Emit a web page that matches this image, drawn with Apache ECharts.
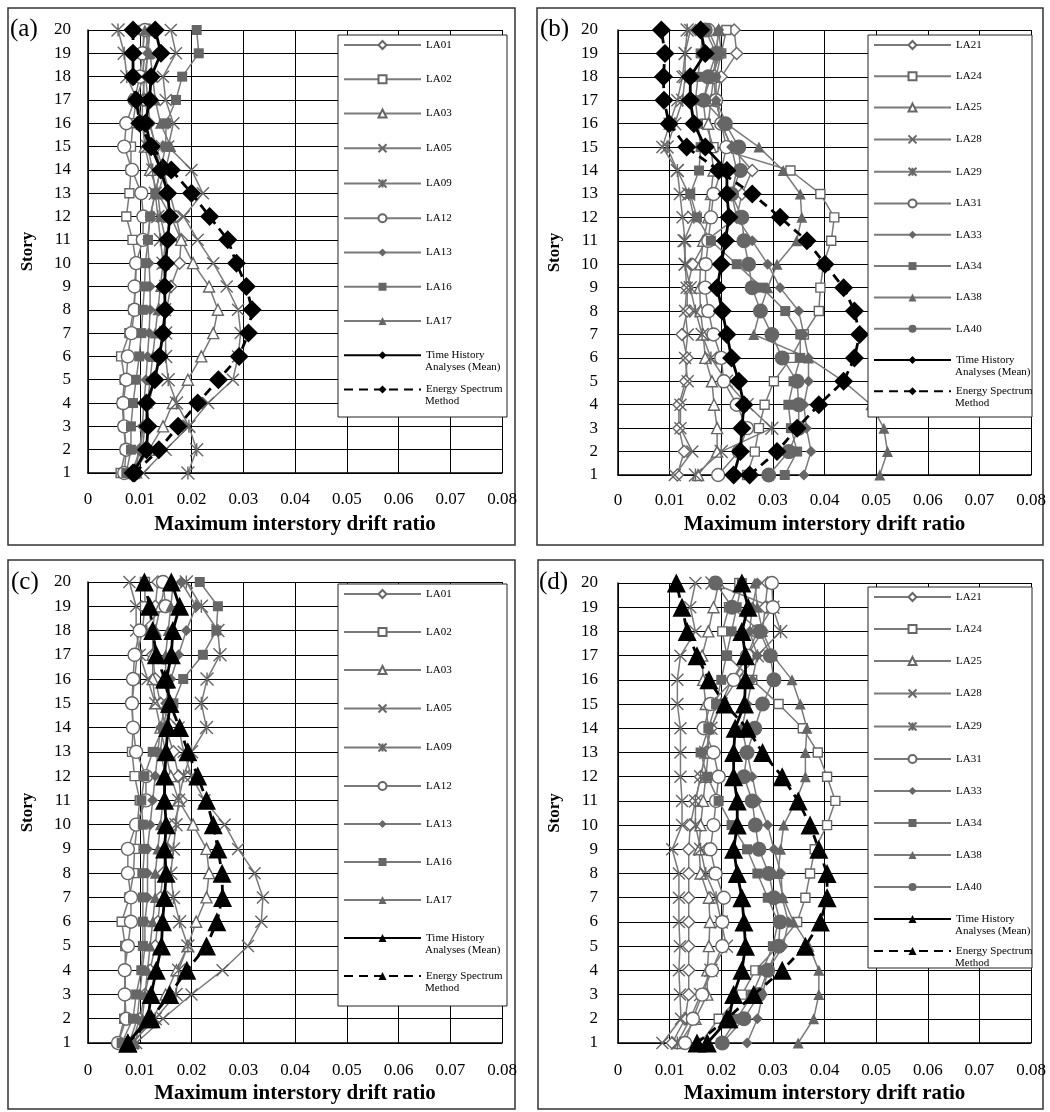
<!DOCTYPE html>
<html><head><meta charset="utf-8">
<script src="https://cdn.jsdelivr.net/npm/echarts@6/dist/echarts.min.js"></script>
<style>html,body{margin:0;padding:0;background:#fff}#c{width:1050px;height:1112px}</style>
</head><body><div id="c"></div><script>
// ---------------- DATA ----------------
const STORIES = [1,2,3,4,5,6,7,8,9,10,11,12,13,14,15,16,17,18,19,20];
const X_TICKS = [0,0.01,0.02,0.03,0.04,0.05,0.06,0.07,0.08];
const NAMES_AC = ['LA01','LA02','LA03','LA05','LA09','LA12','LA13','LA16','LA17'];
const NAMES_BD = ['LA21','LA24','LA25','LA28','LA29','LA31','LA33','LA34','LA38','LA40'];
const MEAN_NAME = 'Time History';
const MEAN_NAME2 = 'Analyses (Mean)';
const ESM_NAME = 'Energy Spectrum';
const ESM_NAME2 = 'Method';

// panel (a)
const A_LA01 = [0.0085,0.0100,0.0108,0.0118,0.0128,0.0138,0.0145,0.0152,0.0160,0.0177,0.0180,0.0170,0.0158,0.0145,0.0132,0.0118,0.0110,0.0105,0.0110,0.0118];
const A_LA02 = [0.0063,0.0073,0.0069,0.0066,0.0071,0.0064,0.0080,0.0088,0.0092,0.0093,0.0086,0.0074,0.0080,0.0083,0.0083,0.0087,0.0093,0.0107,0.0107,0.0107];
const A_LA03 = [0.0088,0.0118,0.0145,0.0164,0.0193,0.0219,0.0242,0.0251,0.0234,0.0203,0.0180,0.0160,0.0135,0.0120,0.0110,0.0105,0.0105,0.0110,0.0115,0.0120];
const A_LA05 = [0.0107,0.0150,0.0195,0.0232,0.0280,0.0290,0.0295,0.0290,0.0268,0.0242,0.0212,0.0185,0.0222,0.0200,0.0155,0.0165,0.0150,0.0145,0.0170,0.0160];
const A_LA09 = [0.0193,0.0210,0.0195,0.0171,0.0155,0.0150,0.0150,0.0148,0.0150,0.0145,0.0140,0.0135,0.0130,0.0125,0.0115,0.0105,0.0095,0.0075,0.0070,0.0058];
const A_LA12 = [0.0070,0.0074,0.0070,0.0068,0.0074,0.0077,0.0084,0.0090,0.0090,0.0093,0.0106,0.0107,0.0103,0.0085,0.0070,0.0074,0.0090,0.0100,0.0105,0.0110];
const A_LA13 = [0.0090,0.0100,0.0105,0.0108,0.0112,0.0115,0.0118,0.0120,0.0120,0.0118,0.0115,0.0120,0.0130,0.0140,0.0130,0.0120,0.0115,0.0112,0.0115,0.0120];
const A_LA16 = [0.0074,0.0083,0.0083,0.0087,0.0093,0.0099,0.0103,0.0106,0.0109,0.0111,0.0116,0.0120,0.0130,0.0140,0.0150,0.0151,0.0170,0.0182,0.0214,0.0210];
const A_LA17 = [0.0095,0.0105,0.0110,0.0115,0.0120,0.0125,0.0130,0.0135,0.0140,0.0145,0.0150,0.0140,0.0135,0.0150,0.0160,0.0140,0.0130,0.0125,0.0120,0.0110];
const A_MEAN = [0.0087,0.0113,0.0116,0.0113,0.0129,0.0138,0.0145,0.0149,0.0148,0.0150,0.0154,0.0158,0.0154,0.0141,0.0122,0.0111,0.0119,0.0122,0.0141,0.0130];
const A_ESM  = [0.0090,0.0137,0.0174,0.0212,0.0252,0.0292,0.0310,0.0317,0.0306,0.0287,0.0270,0.0235,0.0200,0.0161,0.0122,0.0100,0.0093,0.0087,0.0087,0.0087];

// panel (b)
const B_LA21 = [0.0115,0.0128,0.0118,0.0118,0.0131,0.0134,0.0124,0.0134,0.0134,0.0145,0.0170,0.0230,0.0240,0.0260,0.0220,0.0200,0.0190,0.0200,0.0230,0.0225];
const B_LA24 = [0.0250,0.0265,0.0273,0.0284,0.0302,0.0335,0.0360,0.0389,0.0392,0.0398,0.0413,0.0419,0.0392,0.0334,0.0185,0.0170,0.0165,0.0180,0.0200,0.0210];
const B_LA25 = [0.0155,0.0192,0.0192,0.0186,0.0182,0.0169,0.0165,0.0160,0.0158,0.0160,0.0165,0.0175,0.0180,0.0185,0.0180,0.0175,0.0180,0.0185,0.0190,0.0195];
const B_LA28 = [0.0110,0.0144,0.0121,0.0121,0.0135,0.0130,0.0135,0.0130,0.0133,0.0130,0.0130,0.0125,0.0120,0.0115,0.0086,0.0100,0.0115,0.0125,0.0130,0.0140];
const B_LA29 = [0.0150,0.0200,0.0298,0.0250,0.0210,0.0180,0.0163,0.0150,0.0140,0.0130,0.0128,0.0147,0.0137,0.0115,0.0095,0.0110,0.0125,0.0130,0.0130,0.0134];
const B_LA31 = [0.0194,0.0234,0.0250,0.0230,0.0205,0.0200,0.0185,0.0175,0.0169,0.0170,0.0175,0.0180,0.0185,0.0200,0.0210,0.0200,0.0190,0.0185,0.0195,0.0175];
const B_LA33 = [0.0360,0.0374,0.0365,0.0360,0.0369,0.0369,0.0360,0.0350,0.0314,0.0290,0.0260,0.0230,0.0220,0.0230,0.0220,0.0200,0.0190,0.0190,0.0200,0.0195];
const B_LA34 = [0.0323,0.0347,0.0335,0.0330,0.0340,0.0353,0.0353,0.0324,0.0279,0.0230,0.0180,0.0153,0.0140,0.0157,0.0160,0.0155,0.0150,0.0155,0.0160,0.0165];
const B_LA38 = [0.0507,0.0522,0.0515,0.0490,0.0437,0.0369,0.0263,0.0275,0.0290,0.0308,0.0346,0.0356,0.0353,0.0320,0.0273,0.0210,0.0190,0.0185,0.0190,0.0195];
const B_LA40 = [0.0292,0.0331,0.0350,0.0350,0.0347,0.0318,0.0298,0.0276,0.0260,0.0253,0.0244,0.0240,0.0220,0.0237,0.0234,0.0208,0.0166,0.0175,0.0190,0.0169];
const B_MEAN = [0.0224,0.0237,0.0240,0.0244,0.0234,0.0220,0.0211,0.0202,0.0192,0.0200,0.0208,0.0215,0.0211,0.0211,0.0169,0.0147,0.0140,0.0140,0.0169,0.0160];
const B_ESM  = [0.0255,0.0308,0.0347,0.0389,0.0437,0.0458,0.0468,0.0458,0.0437,0.0401,0.0366,0.0314,0.0260,0.0195,0.0133,0.0099,0.0089,0.0088,0.0091,0.0084];

// panel (c)
const C_LA01 = [0.0085,0.0100,0.0110,0.0120,0.0130,0.0135,0.0140,0.0145,0.0150,0.0165,0.0180,0.0175,0.0165,0.0150,0.0140,0.0130,0.0125,0.0125,0.0130,0.0135];
const C_LA02 = [0.0058,0.0070,0.0072,0.0072,0.0072,0.0065,0.0080,0.0088,0.0090,0.0095,0.0100,0.0090,0.0085,0.0087,0.0085,0.0090,0.0095,0.0105,0.0110,0.0110];
const C_LA03 = [0.0087,0.0125,0.0150,0.0171,0.0193,0.0209,0.0229,0.0234,0.0229,0.0203,0.0175,0.0160,0.0150,0.0140,0.0130,0.0125,0.0125,0.0130,0.0140,0.0150];
const C_LA05 = [0.0093,0.0145,0.0200,0.0260,0.0309,0.0335,0.0338,0.0322,0.0290,0.0264,0.0225,0.0200,0.0185,0.0175,0.0130,0.0115,0.0100,0.0093,0.0093,0.0080];
const C_LA09 = [0.0085,0.0130,0.0170,0.0175,0.0193,0.0177,0.0165,0.0160,0.0165,0.0170,0.0175,0.0185,0.0200,0.0229,0.0219,0.0230,0.0255,0.0251,0.0219,0.0190];
const C_LA12 = [0.0058,0.0074,0.0071,0.0071,0.0077,0.0083,0.0083,0.0077,0.0077,0.0093,0.0112,0.0112,0.0093,0.0087,0.0085,0.0087,0.0090,0.0100,0.0150,0.0145];
const C_LA13 = [0.0080,0.0095,0.0100,0.0105,0.0110,0.0110,0.0115,0.0115,0.0115,0.0120,0.0125,0.0130,0.0135,0.0140,0.0150,0.0160,0.0175,0.0190,0.0209,0.0180];
const C_LA16 = [0.0065,0.0087,0.0093,0.0103,0.0106,0.0106,0.0106,0.0106,0.0109,0.0106,0.0103,0.0109,0.0125,0.0145,0.0165,0.0184,0.0222,0.0248,0.0251,0.0216];
const C_LA17 = [0.0090,0.0105,0.0110,0.0115,0.0120,0.0125,0.0130,0.0130,0.0135,0.0140,0.0145,0.0150,0.0140,0.0145,0.0155,0.0150,0.0150,0.0155,0.0160,0.0165];
const C_MEAN = [0.0077,0.0116,0.0122,0.0132,0.0142,0.0144,0.0148,0.0151,0.0148,0.0151,0.0148,0.0148,0.0151,0.0154,0.0158,0.0152,0.0161,0.0164,0.0177,0.0161];
const C_ESM  = [0.0077,0.0122,0.0158,0.0191,0.0229,0.0249,0.0260,0.0259,0.0251,0.0242,0.0229,0.0212,0.0193,0.0177,0.0158,0.0148,0.0132,0.0125,0.0119,0.0109];

// panel (d)
const D_LA21 = [0.0105,0.0130,0.0137,0.0137,0.0137,0.0137,0.0137,0.0137,0.0137,0.0140,0.0150,0.0160,0.0170,0.0180,0.0200,0.0220,0.0250,0.0280,0.0285,0.0290];
const D_LA24 = [0.0160,0.0195,0.0240,0.0266,0.0310,0.0347,0.0363,0.0372,0.0381,0.0405,0.0421,0.0405,0.0387,0.0358,0.0311,0.0260,0.0211,0.0202,0.0215,0.0235];
const D_LA25 = [0.0120,0.0150,0.0173,0.0173,0.0176,0.0178,0.0176,0.0160,0.0157,0.0160,0.0165,0.0170,0.0175,0.0175,0.0170,0.0165,0.0163,0.0175,0.0185,0.0195];
const D_LA28 = [0.0086,0.0122,0.0120,0.0118,0.0120,0.0118,0.0118,0.0118,0.0105,0.0124,0.0124,0.0121,0.0121,0.0121,0.0115,0.0115,0.0121,0.0150,0.0140,0.0150];
const D_LA29 = [0.0115,0.0140,0.0160,0.0180,0.0210,0.0200,0.0190,0.0170,0.0160,0.0150,0.0150,0.0160,0.0170,0.0180,0.0200,0.0230,0.0270,0.0315,0.0300,0.0182];
const D_LA31 = [0.0130,0.0145,0.0163,0.0182,0.0202,0.0202,0.0205,0.0189,0.0179,0.0185,0.0190,0.0195,0.0185,0.0166,0.0179,0.0224,0.0250,0.0270,0.0300,0.0298];
const D_LA33 = [0.0250,0.0270,0.0280,0.0290,0.0320,0.0330,0.0318,0.0316,0.0302,0.0290,0.0270,0.0260,0.0250,0.0240,0.0250,0.0260,0.0270,0.0255,0.0260,0.0270];
const D_LA34 = [0.0200,0.0230,0.0260,0.0280,0.0300,0.0310,0.0290,0.0270,0.0250,0.0220,0.0195,0.0173,0.0160,0.0175,0.0190,0.0200,0.0210,0.0220,0.0230,0.0240];
const D_LA38 = [0.0349,0.0379,0.0389,0.0389,0.0370,0.0340,0.0320,0.0310,0.0315,0.0321,0.0345,0.0363,0.0363,0.0366,0.0353,0.0337,0.0300,0.0280,0.0270,0.0265];
const D_LA40 = [0.0202,0.0244,0.0273,0.0290,0.0311,0.0314,0.0302,0.0292,0.0273,0.0266,0.0260,0.0244,0.0250,0.0265,0.0280,0.0302,0.0295,0.0275,0.0221,0.0189];
const D_MEAN = [0.0173,0.0215,0.0224,0.0240,0.0247,0.0244,0.0240,0.0231,0.0224,0.0231,0.0231,0.0224,0.0224,0.0227,0.0245,0.0247,0.0247,0.0240,0.0252,0.0240];
const D_ESM  = [0.0153,0.0211,0.0263,0.0318,0.0363,0.0392,0.0405,0.0405,0.0389,0.0372,0.0349,0.0318,0.0280,0.0250,0.0207,0.0176,0.0153,0.0134,0.0124,0.0113];

// ---------------- STYLE / LAYOUT ----------------
const SERIF = 'Liberation Serif';
const GRAY_MARK = '#666666', GRAY_LINE = '#7a7a7a';
const SYM = {
  hDiamond: {symbol:'diamond', size:12, fill:'#fff'},
  hSquare: {symbol:'rect', size:9, fill:'#fff'},
  hTriangle: {symbol:'triangle', size:11, fill:'#fff'},
  cross: {symbol:'path://M0,0L10,10M0,10L10,0', size:12, fill:'none'},
  star: {symbol:'path://M0,0L10,10M0,10L10,0M5,0L5,10', size:13, fill:'none'},
  hCircle: {symbol:'circle', size:13, fill:'#fff'},
  fDiamond: {symbol:'diamond', size:11, fill:GRAY_MARK},
  fSquare: {symbol:'rect', size:10, fill:GRAY_MARK},
  fTriangle: {symbol:'triangle', size:11, fill:GRAY_MARK},
  fCircle: {symbol:'circle', size:15, fill:GRAY_MARK}
};
const SYMS_AC = ['hDiamond','hSquare','hTriangle','cross','star','hCircle','fDiamond','fSquare','fTriangle'];
const SYMS_BD = ['hDiamond','hSquare','hTriangle','cross','star','hCircle','fDiamond','fSquare','fTriangle','fCircle'];

const PANELS = [
  {key:'a', names:NAMES_AC, syms:SYMS_AC, vals:[A_LA01,A_LA02,A_LA03,A_LA05,A_LA09,A_LA12,A_LA13,A_LA16,A_LA17], mean:A_MEAN, esm:A_ESM, black:'diamond',
   grid:{left:88, top:30, width:414, height:443}, frame:[8,8,507,537], tag:'(a)', tagXY:[10,29],
   ylm:17, yng:52, xlm:18, xng:41, leg:{x:338, y:35, w:169, h:382, first:45, step:34.25}},
  {key:'b', names:NAMES_BD, syms:SYMS_BD, vals:[B_LA21,B_LA24,B_LA25,B_LA28,B_LA29,B_LA31,B_LA33,B_LA34,B_LA38,B_LA40], mean:B_MEAN, esm:B_ESM, black:'diamond',
   grid:{left:618, top:30, width:413, height:445}, frame:[537,8,506,537], tag:'(b)', tagXY:[540,29],
   ylm:20, yng:55, xlm:17, xng:39, leg:{x:868, y:35, w:164, h:382, first:45, step:31.3}},
  {key:'c', names:NAMES_AC, syms:SYMS_AC, vals:[C_LA01,C_LA02,C_LA03,C_LA05,C_LA09,C_LA12,C_LA13,C_LA16,C_LA17], mean:C_MEAN, esm:C_ESM, black:'triangle',
   grid:{left:88, top:582, width:414, height:461}, frame:[8,560,507,549], tag:'(c)', tagXY:[11,582],
   ylm:17, yng:52, xlm:19, xng:40, leg:{x:338, y:584, w:169, h:422, first:594, step:38}},
  {key:'d', names:NAMES_BD, syms:SYMS_BD, vals:[D_LA21,D_LA24,D_LA25,D_LA28,D_LA29,D_LA31,D_LA33,D_LA34,D_LA38,D_LA40], mean:D_MEAN, esm:D_ESM, black:'triangle',
   grid:{left:618, top:583, width:413, height:460}, frame:[538,560,505,549], tag:'(d)', tagXY:[539,582],
   ylm:20, yng:55, xlm:19, xng:40, leg:{x:868, y:587, w:164, h:381, first:597, step:32}}
];

const LEG_ITEM_W = 77, LEG_ITEM_H = 10, LEG_TEXT_LH = 12;

const grids = [], xAxes = [], yAxes = [], series = [], legends = [], graphics = [];

PANELS.forEach((p, gi) => {
  grids.push(Object.assign({containLabel:false, outerBoundsMode:'none'}, p.grid));
  xAxes.push({
    type:'value', gridIndex:gi, min:X_TICKS[0], max:X_TICKS[X_TICKS.length-1], interval:X_TICKS[1]-X_TICKS[0],
    name:'Maximum interstory drift ratio', nameLocation:'middle', nameGap:p.xng,
    nameTextStyle:{fontFamily:SERIF, fontWeight:'bold', fontSize:21, color:'#000'},
    axisLine:{show:true, onZero:false, lineStyle:{color:'#000', width:1.5}},
    axisTick:{show:false},
    axisLabel:{show:true, margin:p.xlm, fontFamily:SERIF, fontSize:17, color:'#000', showMinLabel:true, showMaxLabel:true,
      formatter: v => v === 0 ? '0' : String(+v.toFixed(2))},
    splitLine:{show:true, lineStyle:{color:'#000', width:1}}
  });
  yAxes.push({
    type:'value', gridIndex:gi, min:STORIES[0], max:STORIES[STORIES.length-1], interval:1,
    name:'Story', nameLocation:'middle', nameGap:p.yng,
    nameTextStyle:{fontFamily:SERIF, fontWeight:'bold', fontSize:17, color:'#000'},
    axisLine:{show:true, onZero:false, lineStyle:{color:'#000', width:1.5}},
    axisTick:{show:false},
    axisLabel:{show:true, margin:p.ylm, fontFamily:SERIF, fontSize:17, color:'#000', showMinLabel:true, showMaxLabel:true},
    splitLine:{show:true, lineStyle:{color:'#000', width:1}}
  });

  const legNames = [];
  p.names.forEach((nm, k) => {
    const s = SYM[p.syms[k]];
    const full = p.key + ':' + nm;
    legNames.push(full);
    series.push({
      type:'line', name:full, xAxisIndex:gi, yAxisIndex:gi,
      data:p.vals[k].map((v, i) => [v, STORIES[i]]),
      symbol:s.symbol, symbolSize:s.size, symbolKeepAspect:true, showSymbol:true,
      clip:false, silent:true, animation:false,
      lineStyle:{color:GRAY_LINE, width:1.5},
      itemStyle:{color:s.fill, borderColor:GRAY_MARK, borderWidth:(s.fill === GRAY_MARK ? 0 : 1.4)},
      emphasis:{disabled:true}, z:2
    });
  });
  [[MEAN_NAME, p.mean, 'solid'], [ESM_NAME, p.esm, [9, 6]]].forEach(([nm, vals, type]) => {
    const full = p.key + ':' + nm;
    legNames.push(full);
    series.push({
      type:'line', name:full, xAxisIndex:gi, yAxisIndex:gi,
      data:vals.map((v, i) => [v, STORIES[i]]),
      symbol:p.black, symbolSize:19, showSymbol:true,
      clip:false, silent:true, animation:false,
      lineStyle:{color:'#000', width:2.8, type:type},
      itemStyle:{color:'#000', borderWidth:0},
      emphasis:{disabled:true}, z:3
    });
  });

  const L = p.leg;
  legends.push({
    orient:'vertical', left:L.x + 5, top:L.first - LEG_TEXT_LH / 2, padding:0,
    itemGap:L.step - LEG_TEXT_LH, itemWidth:LEG_ITEM_W, itemHeight:LEG_ITEM_H,
    selectedMode:false, z:7,
    data:legNames,
    formatter: n => n.slice(n.indexOf(':') + 1),
    textStyle:{fontFamily:SERIF, fontSize:11, color:'#000', lineHeight:LEG_TEXT_LH}
  });

  graphics.push({type:'rect', shape:{x:p.frame[0], y:p.frame[1], width:p.frame[2], height:p.frame[3]},
    style:{fill:'none', stroke:'#333', lineWidth:1.5}, z:0, silent:true});
  graphics.push({type:'rect', shape:{x:L.x, y:L.y, width:L.w, height:L.h},
    style:{fill:'#fff', stroke:'#222', lineWidth:1}, z:5, silent:true});
  graphics.push({type:'text', x:p.tagXY[0], y:p.tagXY[1], z:8, silent:true,
    style:{text:p.tag, font:'25px "' + SERIF + '"', fill:'#000', verticalAlign:'middle', align:'left'}});
  const nG = p.names.length;
  const textX = L.x + 5 + LEG_ITEM_W + 5;
  const thY = L.first + nG * L.step;
  const esY = L.first + (nG + 1) * L.step;
  graphics.push({type:'text', x:textX, y:thY + 14, z:8, silent:true,
    style:{text:MEAN_NAME2, font:'11px "' + SERIF + '"', fill:'#000', verticalAlign:'middle', align:'left'}});
  graphics.push({type:'text', x:textX, y:esY + 14, z:8, silent:true,
    style:{text:ESM_NAME2, font:'11px "' + SERIF + '"', fill:'#000', verticalAlign:'middle', align:'left'}});
});

const chart = echarts.init(document.getElementById('c'), null, {renderer:'canvas'});
chart.setOption({
  backgroundColor:'#fff',
  animation:false,
  tooltip:{show:false},
  grid:grids, xAxis:xAxes, yAxis:yAxes,
  legend:legends,
  series:series,
  graphic:{elements:graphics}
});
</script></body></html>
